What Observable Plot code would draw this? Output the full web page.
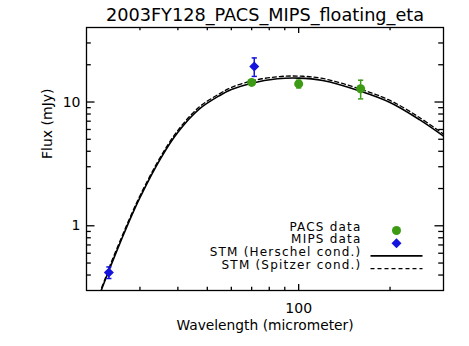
<!DOCTYPE html>
<html>
<head>
<meta charset="utf-8">
<script src="https://cdn.jsdelivr.net/npm/d3@7"></script>
<script src="https://cdn.jsdelivr.net/npm/@observablehq/plot@0.6"></script>
<style>
  html, body { margin: 0; padding: 0; background: white; }
</style>
</head>
<body>
<div id="chart"></div>
<script>
// ---- Data ----
const titleText = "2003FY128_PACS_MIPS_floating_eta";
const xLabel = "Wavelength (micrometer)";
const yLabel = "Flux (mJy)";

// Model curves (wavelength in micrometer, flux in mJy)
const modelWave    = [22, 23, 24, 26, 28, 30, 35, 40, 47, 55, 60, 70, 85, 100, 120, 160, 200, 250, 300];
const stmHerschel  = [0.27, 0.36, 0.47, 0.76, 1.17, 1.69, 3.46, 5.69, 8.75, 11.3, 12.6, 14.2, 15.4, 15.6, 14.9, 12.2, 9.9, 7.2, 5.3];
const stmSpitzer   = [0.28, 0.37, 0.49, 0.79, 1.21, 1.75, 3.58, 5.9, 9.1, 11.7, 13.1, 14.8, 16.0, 16.2, 15.5, 12.7, 10.3, 7.5, 5.5];

// PACS data
const pacsWave = [70, 100, 160];
const pacsFlux = [14.4, 14.0, 12.8];
const pacsErr  = [0.7, 1.0, 2.2];

// MIPS data
const mipsWave = [23.7, 71.4];
const mipsFlux = [0.42, 19.4];
const mipsErr  = [0.045, 3.3];

// Axis ticks
const xMajorTicks = [100];
const xMinorTicks = [30, 40, 50, 60, 70, 80, 90, 200];
const xTickLabels = [100];
const yMajorTicks = [1, 10];
const yMinorTicks = [0.4, 0.5, 0.6, 0.7, 0.8, 0.9, 2, 3, 4, 5, 6, 7, 8, 9, 20, 30];
const yTickLabels = [1, 10];

const legendLabels = ["PACS data", "MIPS data", "STM (Herschel cond.)", "STM (Spitzer cond.)"];

// ---- Tables built from the arrays ----
const herschel = modelWave.map((w, i) => ({w, f: stmHerschel[i]}));
const spitzer  = modelWave.map((w, i) => ({w, f: stmSpitzer[i]}));
const pacs = pacsWave.map((w, i) => ({w, f: pacsFlux[i], lo: pacsFlux[i] - pacsErr[i], hi: pacsFlux[i] + pacsErr[i]}));
const mips = mipsWave.map((w, i) => ({w, f: mipsFlux[i], lo: mipsFlux[i] - mipsErr[i], hi: mipsFlux[i] + mipsErr[i]}));

const green = "#3c9a14";
const blue = "#1414dc";

const W = 469, H = 346, ML = 86, MR = 26, MT = 27, MB = 56;
const FW = W - ML - MR, FH = H - MT - MB;

const capSymbol = {draw(ctx) { ctx.moveTo(-2.6, 0); ctx.lineTo(2.6, 0); }};
const legendLine = {draw(ctx) { ctx.moveTo(-26, 0); ctx.lineTo(26, 0); }};

function tickMarks(values, axis, side, len) {
  const o = {stroke: "black", strokeWidth: 1.3};
  if (axis === "x") {
    return Plot.ruleX(values, {...o, x: d => d, ...(side === "bottom" ? {insetTop: FH - len} : {insetBottom: FH - len})});
  }
  return Plot.ruleY(values, {...o, y: d => d, ...(side === "left" ? {insetRight: FW - len} : {insetLeft: FW - len})});
}

const legendDy = [-60, -47.3, -34.6, -21.9];
const legendMarks = [];
legendLabels.forEach((lab, i) => {
  legendMarks.push(Plot.text([lab], {frameAnchor: "bottom-right", text: d => d, dx: -82, dy: legendDy[i], textAnchor: "end", fontSize: 12}));
});
legendMarks.push(Plot.dot([legendLabels[0]], {frameAnchor: "bottom-right", dx: -47, dy: legendDy[0], r: 4.5, fill: green, stroke: "none"}));
legendMarks.push(Plot.dot([legendLabels[1]], {frameAnchor: "bottom-right", dx: -47, dy: legendDy[1], r: 4.5, symbol: "diamond2", fill: blue, stroke: "none"}));
legendMarks.push(Plot.dot([legendLabels[2]], {frameAnchor: "bottom-right", dx: -47, dy: legendDy[2], symbol: legendLine, fill: "none", stroke: "black", strokeWidth: 1.6}));
legendMarks.push(Plot.dot([legendLabels[3]], {frameAnchor: "bottom-right", dx: -47, dy: legendDy[3], symbol: legendLine, fill: "none", stroke: "black", strokeWidth: 1.3, strokeDasharray: "4,3"}));

const chart = Plot.plot({
  width: W,
  height: H,
  marginLeft: ML,
  marginRight: MR,
  marginTop: MT,
  marginBottom: MB,
  style: {fontFamily: "DejaVu Sans", fontSize: "14px", color: "black", background: "white"},
  x: {type: "log", domain: [20, 300]},
  y: {type: "log", domain: [0.3, 40]},
  marks: [
    // inward ticks on all four sides
    tickMarks(xMinorTicks, "x", "bottom", 3.2),
    tickMarks(xMajorTicks, "x", "bottom", 6),
    tickMarks(xMinorTicks, "x", "top", 3.2),
    tickMarks(xMajorTicks, "x", "top", 6),
    tickMarks(yMinorTicks, "y", "left", 4.8),
    tickMarks(yMajorTicks, "y", "left", 8.5),
    tickMarks(yMinorTicks, "y", "right", 4.8),
    tickMarks(yMajorTicks, "y", "right", 8.5),
    // tick labels
    Plot.axisX(xTickLabels, {anchor: "bottom", tickSize: 0, tickPadding: 13, tickFormat: d => String(d), label: null, fontSize: 14}),
    Plot.axisY(yTickLabels, {anchor: "left", tickSize: 0, tickPadding: 6, tickFormat: d => String(d), label: null, fontSize: 14}),
    Plot.frame({stroke: "black", strokeWidth: 1.3}),
    // models
    Plot.line(herschel, {x: "w", y: "f", stroke: "black", strokeWidth: 1.6, curve: "catmull-rom", clip: true}),
    Plot.line(spitzer, {x: "w", y: "f", stroke: "black", strokeWidth: 1.3, strokeDasharray: "4,3", curve: "catmull-rom", clip: true}),
    // error bars
    Plot.ruleX(pacs, {x: "w", y1: "lo", y2: "hi", stroke: green, strokeWidth: 1.5}),
    Plot.dot(pacs, {x: "w", y: "lo", symbol: capSymbol, stroke: green, fill: "none", strokeWidth: 1.5}),
    Plot.dot(pacs, {x: "w", y: "hi", symbol: capSymbol, stroke: green, fill: "none", strokeWidth: 1.5}),
    Plot.ruleX(mips, {x: "w", y1: "lo", y2: "hi", stroke: blue, strokeWidth: 1.5}),
    Plot.dot(mips, {x: "w", y: "lo", symbol: capSymbol, stroke: blue, fill: "none", strokeWidth: 1.5}),
    Plot.dot(mips, {x: "w", y: "hi", symbol: capSymbol, stroke: blue, fill: "none", strokeWidth: 1.5}),
    // data points
    Plot.dot(pacs, {x: "w", y: "f", r: 4.5, fill: green, stroke: "none"}),
    Plot.dot(mips, {x: "w", y: "f", r: 4.5, symbol: "diamond2", fill: blue, stroke: "none"}),
    // legend
    ...legendMarks,
    // title and axis labels
    Plot.text([titleText], {frameAnchor: "top", text: d => d, dy: -19.5, fontSize: 17.7}),
    Plot.text([xLabel], {frameAnchor: "bottom", text: d => d, dy: 39, fontSize: 13.8}),
    Plot.text([yLabel], {frameAnchor: "left", text: d => d, dx: -39, rotate: -90, fontSize: 14})
  ]
});
// widen the legend lettering like the reference's wide font
d3.select(chart).selectAll("text").each(function() {
  if (legendLabels.includes(this.textContent)) this.style.letterSpacing = "1.2px";
});
document.getElementById("chart").appendChild(chart);
</script>
</body>
</html>
